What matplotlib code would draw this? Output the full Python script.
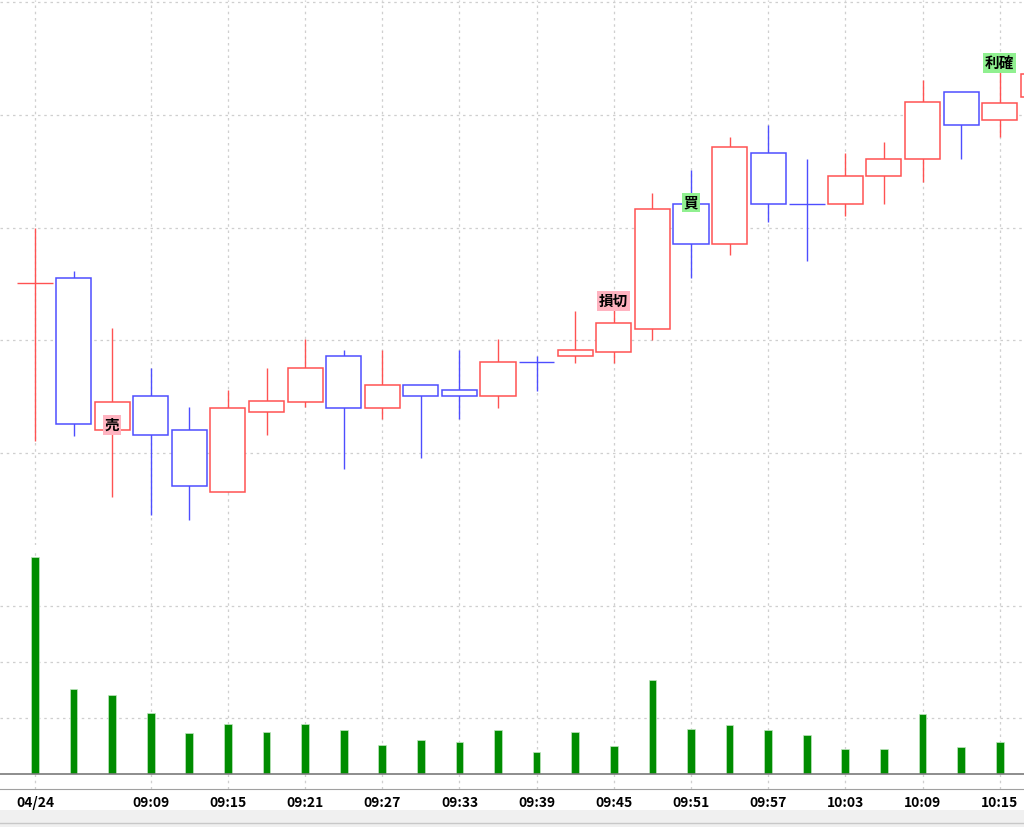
import matplotlib.pyplot as plt
from matplotlib.patches import Rectangle

plt.rcParams['font.family'] = ['Noto Sans CJK JP', 'DejaVu Sans']

# 3-minute candles, 04/24 09:00 onwards
times = ["09:00", "09:03", "09:06", "09:09", "09:12", "09:15", "09:18", "09:21", "09:24",
         "09:27", "09:30", "09:33", "09:36", "09:39", "09:42", "09:45", "09:48", "09:51",
         "09:54", "09:57", "10:00", "10:03", "10:06", "10:09", "10:12", "10:15", "10:18"]
opens = [2151, 2155, 2020, 2051, 2020, 1965, 2036, 2045, 2086, 2040, 2060, 2056, 2051, 2081,
         2086, 2090, 2110, 2221, 2185, 2266, 2221, 2221, 2246, 2261, 2320, 2295, 2316]
highs = [2200, 2161, 2111, 2075, 2041, 2056, 2075, 2101, 2091, 2091, 2060, 2091, 2101, 2086,
         2126, 2129, 2231, 2251, 2280, 2291, 2261, 2266, 2276, 2331, 2320, 2341, 2345]
lows = [2011, 2015, 1961, 1945, 1941, 1965, 2016, 2041, 1986, 2030, 1996, 2030, 2040, 2055,
        2080, 2080, 2100, 2155, 2176, 2205, 2170, 2210, 2221, 2240, 2261, 2280, 2312]
closes = [2151, 2026, 2045, 2016, 1971, 2040, 2046, 2075, 2040, 2060, 2051, 2051, 2081, 2081,
          2091, 2115, 2216, 2185, 2271, 2221, 2221, 2246, 2261, 2311, 2291, 2310, 2336]
doji_up = [0]  # flat candles drawn in red, others flat in blue
volumes = [3880, 1518, 1411, 1095, 732, 888, 755, 888, 780, 518, 602, 571, 780, 387,
           755, 506, 1679, 804, 869, 792, 702, 441, 441, 1071, 482, 571, 0]

# trade signals: candle index, price, label, kind
sig_idx = [2, 15, 17, 25]
sig_price = [2025, 2135, 2222, 2346]
sig_text = ["売", "損切", "買", "利確"]
sig_kind = ["sell", "sell", "buy", "buy"]

tick_idx = [0, 3, 5, 7, 9, 11, 13, 15, 17, 19, 21, 23, 25]
tick_labels = ["04/24"] + [times[i] for i in tick_idx[1:]]

RED = "#ff5252"
BLUE = "#4e4eff"
GRID = "#cfcfcf"
H = 827

fig = plt.figure(figsize=(10.24, 8.27), dpi=100)
ax_p = fig.add_axes([0, 1 - 545 / H, 1, 545 / H])
ax_v = fig.add_axes([0, 1 - 774 / H, 1, 224 / H], sharex=ax_p)
ax_t = fig.add_axes([0, 1 - 789 / H, 1, 15 / H], sharex=ax_p)

for ax in (ax_p, ax_v, ax_t):
    for s in ax.spines.values():
        s.set_visible(False)
    ax.tick_params(left=False, labelleft=False, bottom=False, labelbottom=False)
    ax.set_xticks(tick_idx)
    ax.set_axisbelow(True)

ax_p.set_xlim(-0.907, 25.63)
ax_p.set_ylim(1918.4, 2401.8)
ax_p.set_yticks([2000, 2100, 2200, 2300, 2400])
ax_v.set_ylim(0, 4000)
ax_v.set_yticks([1000, 2000, 3000])
for ax in (ax_p, ax_v):
    ax.grid(True, color=GRID, linestyle=(0, (2, 3)), linewidth=0.9)

# candles
for i, (o, h, l, c) in enumerate(zip(opens, highs, lows, closes)):
    if c > o or (c == o and i in doji_up):
        col = RED
    else:
        col = BLUE
    ax_p.vlines(i, l, h, color=col, linewidth=1.0, zorder=2)
    if c == o:
        ax_p.hlines(o, i - 0.46, i + 0.46, color=col, linewidth=1.0, zorder=3)
    else:
        ax_p.add_patch(Rectangle((i - 0.455, min(o, c)), 0.91, abs(c - o),
                                 facecolor="white", edgecolor=col, linewidth=1.1, zorder=3))

for i, p, t, k in zip(sig_idx, sig_price, sig_text, sig_kind):
    bg = "#ffb3c0" if k == "sell" else "#90f090"
    ax_p.text(i, p, t, ha="center", va="center", fontsize=10.5, fontweight="bold",
              color="black", zorder=5,
              bbox=dict(boxstyle="square,pad=0.12", facecolor=bg, edgecolor="none"))

# volume
ax_v.bar(range(len(volumes)), volumes, width=0.2, color="#008c00",
         edgecolor="#bfe6bf", linewidth=0.5, zorder=3)

# time axis strip
ax_t.set_ylim(0, 1)
for x in tick_idx:
    ax_t.axvline(x, color=GRID, linestyle=(0, (2, 3)), linewidth=0.9)
ax_t.spines["top"].set_visible(True)
ax_t.spines["top"].set_color("#7a7a7a")
ax_t.spines["top"].set_linewidth(1.2)
ax_t.spines["bottom"].set_visible(True)
ax_t.spines["bottom"].set_color("#a0a0a0")
ax_t.tick_params(labelbottom=True, length=0, pad=5, labelsize=10)
ax_t.set_xticklabels(tick_labels, fontweight="bold")

# bottom status band
fig.patches.append(Rectangle((0, 0), 1, 17 / H, transform=fig.transFigure,
                             facecolor="#f0f0f0", edgecolor="none", zorder=0))
fig.add_artist(plt.Line2D([0, 1], [4 / H, 4 / H], transform=fig.transFigure,
                          color="#c8c8c8", linewidth=1))

fig.savefig("out.png", dpi=100)
